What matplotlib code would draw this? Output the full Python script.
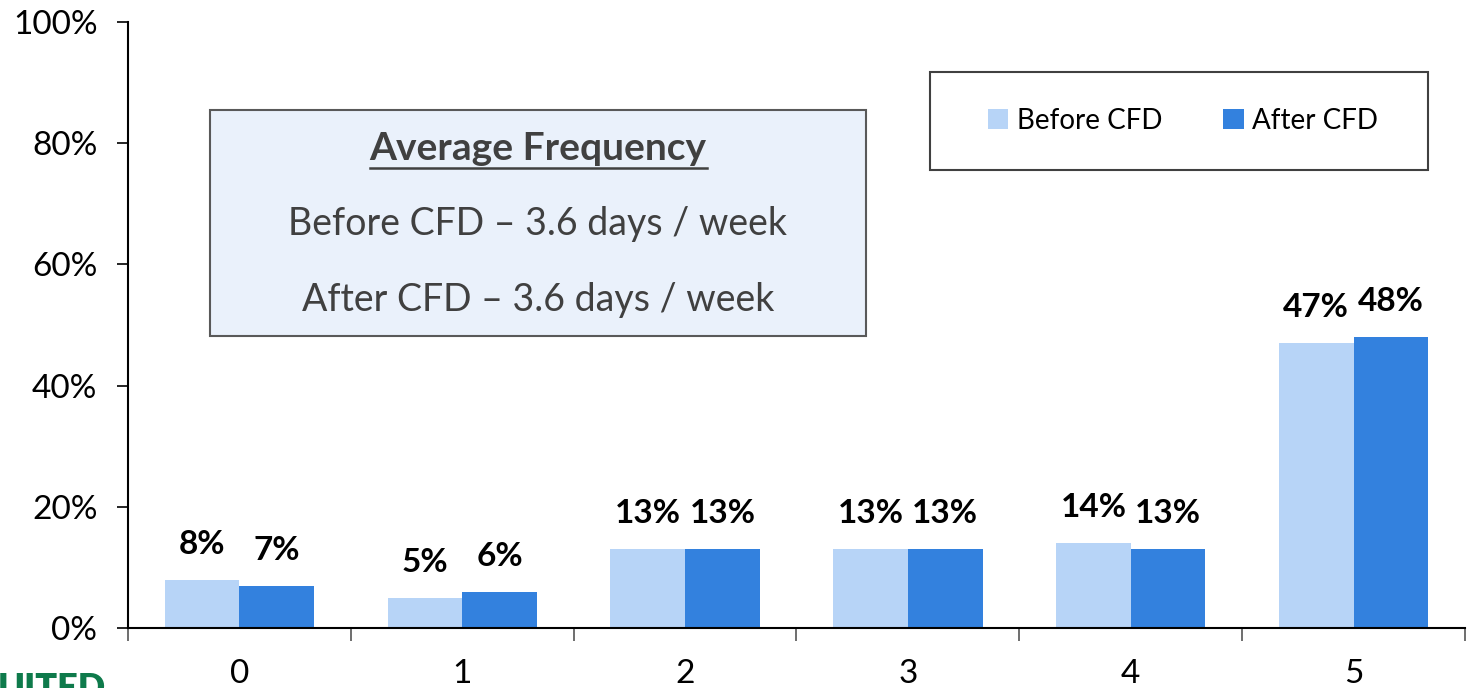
import matplotlib.pyplot as plt
from matplotlib.patches import Rectangle
from matplotlib.lines import Line2D
import numpy as np

plt.rcParams['font.family'] = ['Lato', 'DejaVu Sans']

days = ['0', '1', '2', '3', '4', '5']
before = [8, 5, 13, 13, 14, 47]
after = [7, 6, 13, 13, 13, 48]

c_before = '#B7D4F7'
c_after = '#3381DE'
grey = '#404040'

W, H = 1468, 688
fig = plt.figure(figsize=(W / 100, H / 100), dpi=100)
ax = fig.add_axes([128 / W, 1 - 628 / H, 1337 / W, 606 / H])

x = np.arange(len(days))
w = 0.335
ax.bar(x - w / 2, before, w, color=c_before, label='Before CFD')
ax.bar(x + w / 2, after, w, color=c_after, label='After CFD')

for xi, b, a in zip(x, before, after):
    ax.annotate(f'{b}%', (xi - w / 2, b), xytext=(0, 15), textcoords='offset points',
                ha='center', va='bottom', fontsize=24, fontweight='bold')
    ax.annotate(f'{a}%', (xi + w / 2, a), xytext=(0, 15), textcoords='offset points',
                ha='center', va='bottom', fontsize=24, fontweight='bold')

ax.set_xlim(-0.5, 5.5)
ax.set_ylim(0, 100)
ax.set_yticks(range(0, 101, 20))
ax.set_yticklabels([f'{v}%' for v in range(0, 101, 20)], fontsize=24)
ax.set_xticks(x)
ax.set_xticklabels(days, fontsize=24)
ax.tick_params(axis='x', which='major', length=0, pad=22)
ax.set_xticks(np.arange(-0.5, 6, 1), minor=True)
ax.tick_params(axis='x', which='minor', length=9, width=1.2, color='#555555', direction='out')
ax.tick_params(axis='y', length=8, width=1.2, direction='out', pad=14)
for s in ['top', 'right']:
    ax.spines[s].set_visible(False)
ax.spines['left'].set_linewidth(1.5)
ax.spines['bottom'].set_linewidth(1.5)

# info box
fig.patches.append(Rectangle((210 / W, 1 - 336 / H), 656 / W, 226 / H, transform=fig.transFigure,
                             facecolor='#EAF1FB', edgecolor='#595959', linewidth=1.5))
cx = 538 / W
t = fig.text(cx, 1 - 148 / H, 'Average Frequency', ha='center', va='center',
             fontsize=28, fontweight='bold', color=grey)
fig.text(cx, 1 - 224 / H, 'Before CFD \u2013 3.6 days / week', ha='center', va='center',
         fontsize=27, color=grey)
fig.text(cx, 1 - 300 / H, 'After CFD \u2013 3.6 days / week', ha='center', va='center',
         fontsize=27, color=grey)
fig.canvas.draw()
bb = t.get_window_extent()
fig.lines.append(Line2D([bb.x0 / W, bb.x1 / W], [1 - 168 / H, 1 - 168 / H],
                        transform=fig.transFigure, color=grey, linewidth=1.8))

# legend
fig.patches.append(Rectangle((930 / W, 1 - 170 / H), 498 / W, 98 / H, transform=fig.transFigure,
                             facecolor='white', edgecolor='#404040', linewidth=1.5))
handles, labels = ax.get_legend_handles_labels()
leg = fig.legend(handles, labels, loc='center', bbox_to_anchor=(1183 / W, 1 - 121 / H),
                 ncol=2, frameon=False, fontsize=20, handlelength=0.75, handleheight=0.75,
                 handletextpad=0.3, columnspacing=2.2)
leg.set_zorder(5)

# cut-off logo
fig.text(-2 / W, 1 - 672 / H, 'UITED', ha='left', va='top', fontsize=26,
         fontweight='heavy', color='#0E7A4B')

fig.savefig('out.png', dpi=100)
